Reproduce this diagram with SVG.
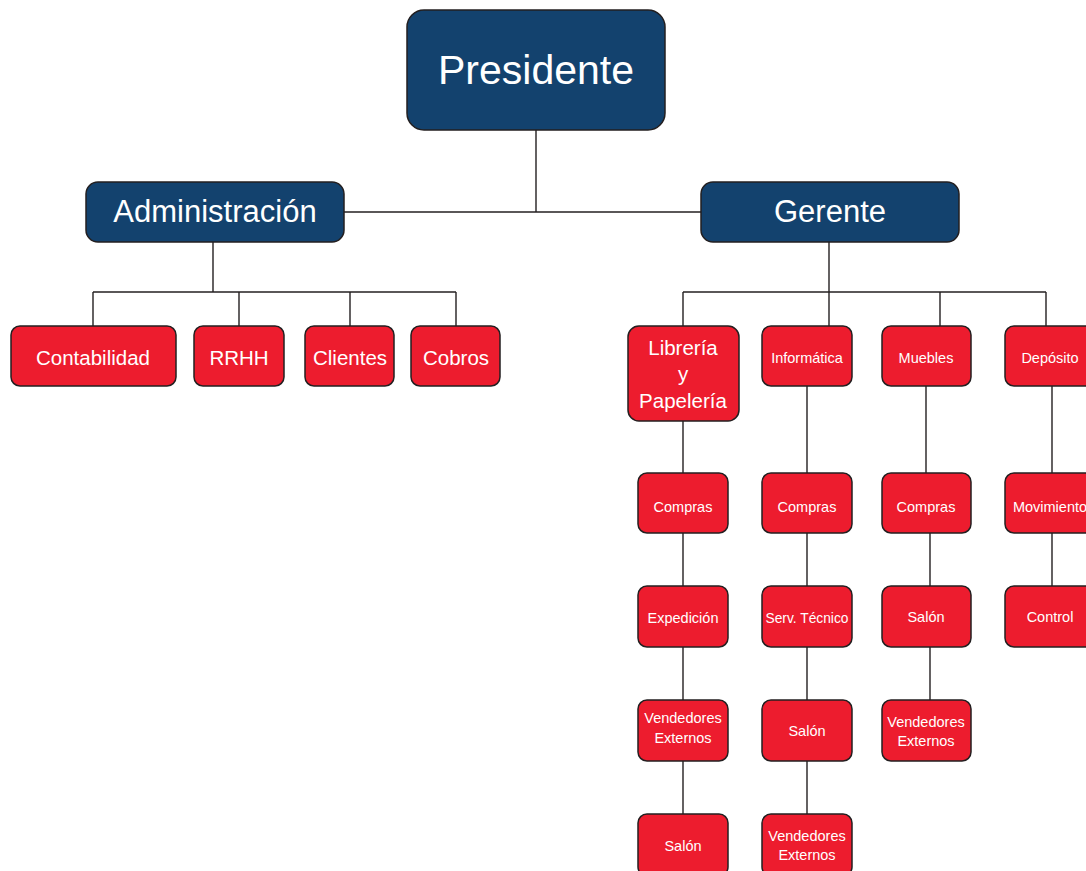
<svg xmlns="http://www.w3.org/2000/svg" width="1086" height="871" viewBox="0 0 1086 871">
<style>
.blue{fill:#13426e;stroke:#231f20;stroke-width:1.5}
.red{fill:#ed1c2e;stroke:#231f20;stroke-width:1.5}
.t{font-family:"Liberation Sans",Arial,sans-serif;fill:#ffffff;text-anchor:middle}
.xl{font-size:41px}
.l{font-size:31px}
.m{font-size:20.5px}
.s{font-size:14.5px}
.c line{stroke:#231f20;stroke-width:1.4}
</style>
<rect width="1086" height="871" fill="#ffffff"/>
<g class="c" id="connectors">
<line x1="536" y1="130" x2="536" y2="212"/>
<line x1="344" y1="212" x2="701" y2="212"/>
<line x1="213" y1="242" x2="213" y2="292"/>
<line x1="93" y1="292" x2="456" y2="292"/>
<line x1="93" y1="292" x2="93" y2="326"/>
<line x1="239" y1="292" x2="239" y2="326"/>
<line x1="350" y1="292" x2="350" y2="326"/>
<line x1="456" y1="292" x2="456" y2="326"/>
<line x1="829" y1="242" x2="829" y2="292"/>
<line x1="683" y1="292" x2="1046" y2="292"/>
<line x1="683" y1="292" x2="683" y2="326"/>
<line x1="829" y1="292" x2="829" y2="326"/>
<line x1="940" y1="292" x2="940" y2="326"/>
<line x1="1046" y1="292" x2="1046" y2="326"/>
<line x1="683" y1="421" x2="683" y2="814"/>
<line x1="807" y1="386" x2="807" y2="814"/>
<line x1="926" y1="386" x2="926" y2="473"/>
<line x1="930" y1="533" x2="930" y2="700"/>
<line x1="1052" y1="386" x2="1052" y2="586"/>
</g>
<g id="presidente"><rect class="blue" x="407" y="10" width="258" height="120" rx="17"/><text class="t xl" x="536" y="84">Presidente</text></g>
<g id="administracion"><rect class="blue" x="86" y="182" width="258" height="60" rx="12"/><text class="t l" x="215" y="222">Administración</text></g>
<g id="gerente"><rect class="blue" x="701" y="182" width="258" height="60" rx="12"/><text class="t l" x="830" y="222">Gerente</text></g>
<g id="contabilidad"><rect class="red" x="11" y="326" width="165" height="60" rx="9"/><text class="t m" x="93" y="365">Contabilidad</text></g>
<g id="rrhh"><rect class="red" x="194" y="326" width="90" height="60" rx="9"/><text class="t m" x="239" y="365">RRHH</text></g>
<g id="clientes"><rect class="red" x="305" y="326" width="89" height="60" rx="9"/><text class="t m" x="350" y="365">Clientes</text></g>
<g id="cobros"><rect class="red" x="411" y="326" width="89" height="60" rx="9"/><text class="t m" x="456" y="365">Cobros</text></g>
<g id="libreria"><rect class="red" x="628" y="326" width="111" height="95" rx="11"/><text class="t m" x="683" y="355">Librería</text><text class="t m" x="683" y="381">y</text><text class="t m" x="683" y="408">Papelería</text></g>
<g id="informatica"><rect class="red" x="762" y="326" width="90" height="60" rx="9"/><text class="t s" x="807" y="363">Informática</text></g>
<g id="muebles"><rect class="red" x="882" y="326" width="89" height="60" rx="9"/><text class="t s" x="926" y="363">Muebles</text></g>
<g id="deposito"><rect class="red" x="1005" y="326" width="92" height="60" rx="9"/><text class="t s" x="1050" y="363">Depósito</text></g>
<g id="lib-compras"><rect class="red" x="638" y="473" width="90" height="60" rx="9"/><text class="t s" x="683" y="512">Compras</text></g>
<g id="lib-expedicion"><rect class="red" x="638" y="586" width="90" height="61" rx="9"/><text class="t s" x="683" y="623">Expedición</text></g>
<g id="lib-vendedores"><rect class="red" x="638" y="700" width="90" height="61" rx="9"/><text class="t s" x="683" y="723">Vendedores</text><text class="t s" x="683" y="743">Externos</text></g>
<g id="lib-salon"><rect class="red" x="638" y="814" width="90" height="62" rx="9"/><text class="t s" x="683" y="851">Salón</text></g>
<g id="inf-compras"><rect class="red" x="762" y="473" width="90" height="60" rx="9"/><text class="t s" x="807" y="512">Compras</text></g>
<g id="inf-serv"><rect class="red" x="762" y="586" width="90" height="61" rx="9"/><text class="t s" x="807" y="623" textLength="83" lengthAdjust="spacingAndGlyphs">Serv. Técnico</text></g>
<g id="inf-salon"><rect class="red" x="762" y="700" width="90" height="61" rx="9"/><text class="t s" x="807" y="736">Salón</text></g>
<g id="inf-vendedores"><rect class="red" x="762" y="814" width="90" height="62" rx="9"/><text class="t s" x="807" y="841">Vendedores</text><text class="t s" x="807" y="860">Externos</text></g>
<g id="mue-compras"><rect class="red" x="882" y="473" width="89" height="60" rx="9"/><text class="t s" x="926" y="512">Compras</text></g>
<g id="mue-salon"><rect class="red" x="882" y="586" width="89" height="61" rx="9"/><text class="t s" x="926" y="622">Salón</text></g>
<g id="mue-vendedores"><rect class="red" x="882" y="700" width="89" height="61" rx="9"/><text class="t s" x="926" y="727">Vendedores</text><text class="t s" x="926" y="746">Externos</text></g>
<g id="dep-movimiento"><rect class="red" x="1005" y="473" width="92" height="60" rx="9"/><text class="t s" x="1050" y="512">Movimiento</text></g>
<g id="dep-control"><rect class="red" x="1005" y="586" width="92" height="61" rx="9"/><text class="t s" x="1050" y="622">Control</text></g>
</svg>
